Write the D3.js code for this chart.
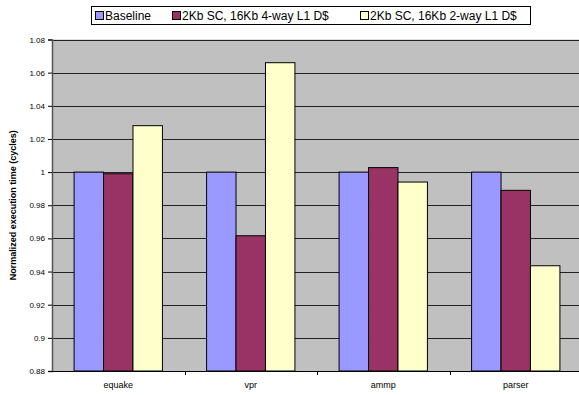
<!DOCTYPE html>
<html><head><meta charset="utf-8">
<script src="https://cdn.jsdelivr.net/npm/d3@7"></script>
<style>body{margin:0;background:#fff}svg{display:block;font-family:"Liberation Sans",Arial,sans-serif}</style>
</head><body>
<script>
const categories = ["equake", "vpr", "ammp", "parser"];
const seriesNames = ["Baseline", "2Kb SC, 16Kb 4-way L1 D$", "2Kb SC, 16Kb 2-way L1 D$"];
const baseline = [1.0, 1.0, 1.0, 1.0];
const sc4way = [0.999, 0.9616, 1.0027, 0.989];
const sc2way = [1.028, 1.066, 0.994, 0.9435];
const yTicks = [0.88, 0.9, 0.92, 0.94, 0.96, 0.98, 1, 1.02, 1.04, 1.06, 1.08];
const colors = ["#9999FF", "#993366", "#FFFFCC"];
const series = [baseline, sc4way, sc2way];

const FF = "'Liberation Sans', Arial, sans-serif";
const W = 579, H = 395;
const m = {left: 52, top: 39.5, right: -3, bottom: 24};
const svg = d3.select("body").append("svg").attr("width", W).attr("height", H);
const x0 = d3.scaleBand().domain(categories).range([m.left, W - m.right]);
const x1 = d3.scaleBand().domain(d3.range(3)).range([0, x0.bandwidth()]).paddingOuter(0.75).paddingInner(0);
const y = d3.scaleLinear().domain([0.88, 1.08]).range([H - m.bottom, m.top]);

svg.append("rect").attr("x", m.left).attr("y", m.top).attr("width", W - m.right - m.left).attr("height", H - m.bottom - m.top).attr("fill", "#C0C0C0");

svg.append("g").selectAll("line").data(yTicks.slice(1)).join("line")
  .attr("x1", m.left).attr("x2", W - m.right).attr("y1", d => Math.round(y(d)) + 0.5).attr("y2", d => Math.round(y(d)) + 0.5)
  .attr("stroke", "#222").attr("stroke-width", 1);

const g = svg.append("g");
categories.forEach((c, i) => {
  series.forEach((s, j) => {
    g.append("rect")
      .attr("x", x0(c) + x1(j)).attr("width", x1.bandwidth())
      .attr("y", y(s[i])).attr("height", y(0.88) - y(s[i]))
      .attr("fill", colors[j]).attr("stroke", "#000").attr("stroke-width", 1);
  });
});

// y axis
const ya = svg.append("g").attr("transform", `translate(${m.left},0)`)
  .call(d3.axisLeft(y).tickValues(yTicks).tickSize(4).tickFormat(d => d3.format("~g")(d)));
ya.select(".domain").attr("stroke", "#555").attr("stroke-width", 1.5);
ya.selectAll("text").attr("font-size", 8).attr("fill", "#000").attr("font-family", FF);

// x axis
const xa = svg.append("g").attr("transform", `translate(0,${H - m.bottom})`)
  .call(d3.axisBottom(x0).tickSize(0).tickPadding(11));
xa.select(".domain").attr("stroke", "#000");
xa.selectAll("text").attr("font-size", 9).attr("fill", "#000").attr("font-family", FF);
svg.append("g").selectAll("line").data(categories.slice(1)).join("line")
  .attr("x1", d => Math.round(x0(d)) + 0.5).attr("x2", d => Math.round(x0(d)) + 0.5)
  .attr("y1", H - m.bottom).attr("y2", H - m.bottom + 4).attr("stroke", "#000");

svg.append("text").attr("transform", `translate(16,${(m.top + H - m.bottom) / 2}) rotate(-90)`)
  .attr("text-anchor", "middle").attr("font-size", 9).attr("font-weight", "bold").attr("font-family", FF)
  .text("Normalized execution time (cycles)");

// legend
const lg = svg.append("g");
lg.append("rect").attr("x", 91.5).attr("y", 6.5).attr("width", 439).attr("height", 18).attr("fill", "#fff").attr("stroke", "#000");
const lx = [95, 172, 360];
seriesNames.forEach((n, j) => {
  lg.append("rect").attr("x", lx[j] + 0.5).attr("y", 11.5).attr("width", 8).attr("height", 8).attr("fill", colors[j]).attr("stroke", "#000");
  lg.append("text").attr("x", lx[j] + 10).attr("y", 20).attr("font-size", 12).attr("font-family", FF).text(n);
});
</script>
</body></html>
